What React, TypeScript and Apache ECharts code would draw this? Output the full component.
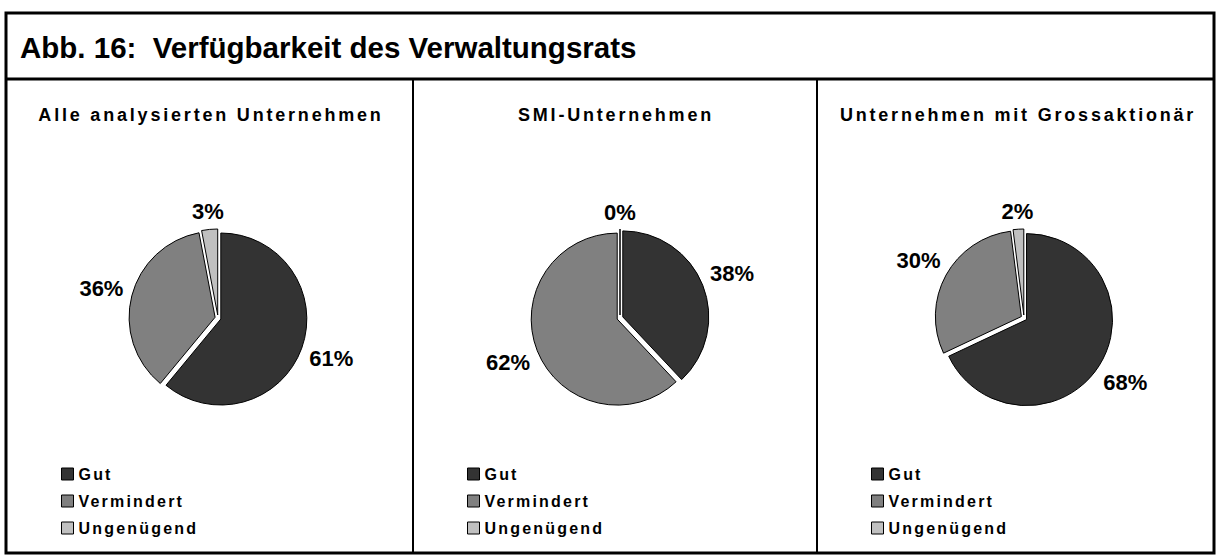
import React, { useEffect, useRef } from "react";
import * as echarts from "echarts";

const categories = ["Gut", "Vermindert", "Ungenügend"];
const colors = ["#333333", "#808080", "#c0c0c0"];
const panelTitles = ["Alle analysierten Unternehmen", "SMI-Unternehmen", "Unternehmen mit Grossaktionär"];
const valuesAlle = [61, 36, 3];
const valuesSMI = [38, 62, 0];
const valuesGross = [68, 30, 2];
const chartTitle = "Abb. 16:  Verfügbarkeit des Verwaltungsrats";

const FONT = "'Liberation Sans', Arial, sans-serif";
const FONT_SUB = "'Liberation Sans', spacedsubx, sans-serif";
const FONT_LEG = "'Liberation Sans', spacedlegx, sans-serif";
const LABEL_SIZE = 22;

const CSS = `
text[style*="spacedsubx"] { letter-spacing: 2.8px; }
text[style*="spacedlegx"] { letter-spacing: 2.2px; }
`;

// distance of the label centre beyond the slice edge, from the slice's mid angle and label size
function labelLength(vals: number[], idx: number) {
  const total = vals.reduce((a, b) => a + b, 0);
  let cum = 0;
  for (let k = 0; k < idx; k++) cum += vals[k];
  const th = ((cum + vals[idx] / 2) / total) * 2 * Math.PI;
  const digits = String(vals[idx]).length;
  const w = LABEL_SIZE * (0.556 * digits + 0.889);
  const h = LABEL_SIZE * 0.75;
  return 8 + (w / 2) * Math.abs(Math.sin(th)) + (h / 2) * Math.abs(Math.cos(th));
}

export default function App() {
  const ref = useRef<HTMLDivElement>(null);
  useEffect(() => {
    document.body.style.margin = "0";
    const chart = echarts.init(ref.current!, null, { renderer: "svg" });
    const allValues = [valuesAlle, valuesSMI, valuesGross];
    const centersX = [218, 620, 1024];
    const centerY = 318;
    const R = 86;
    const panelCenters = [211, 616, 1018];

    const series = allValues.map((vals, i) => ({
      type: "pie",
      center: [centersX[i], centerY],
      radius: R,
      startAngle: 90,
      clockwise: true,
      selectedMode: "multiple",
      selectedOffset: 3,
      avoidLabelOverlap: false,
      stillShowZeroSum: true,
      itemStyle: { borderColor: "#000", borderWidth: 1 },
      emphasis: { disabled: true },
      label: {
        show: true,
        position: "outside",
        formatter: "{c}%",
        fontFamily: FONT,
        fontWeight: "bold",
        fontSize: LABEL_SIZE,
        color: "#000",
        distanceToLabelLine: 0,
      },
      labelLine: { show: false, length: 10, length2: 0 },
      labelLayout: () => ({ align: "center", verticalAlign: "middle" }),
      data: vals.map((v, k) => ({
        name: categories[k],
        value: v,
        selected: true,
        itemStyle: { color: colors[k] },
        labelLine: { show: false, length: labelLength(vals, k), length2: 0 },
      })),
    }));

    const legends = [56, 462, 866].map((lx) => ({
      orient: "vertical",
      left: lx,
      top: 461,
      itemWidth: 12,
      itemHeight: 12,
      itemGap: 11,
      icon: "rect",
      selectedMode: false,
      data: categories,
      itemStyle: { borderColor: "#000", borderWidth: 1 },
      textStyle: { fontFamily: FONT_LEG, fontWeight: "bold", fontSize: 16, lineHeight: 16, color: "#000" },
    }));

    const graphics: any[] = [
      { type: "rect", shape: { x: 6, y: 13, width: 1208, height: 540 }, style: { fill: "none", stroke: "#000", lineWidth: 3 } },
      { type: "line", shape: { x1: 6, y1: 79, x2: 1214, y2: 79 }, style: { stroke: "#000", lineWidth: 3 } },
      { type: "line", shape: { x1: 413, y1: 79, x2: 413, y2: 553 }, style: { stroke: "#000", lineWidth: 2 } },
      { type: "line", shape: { x1: 817, y1: 79, x2: 817, y2: 553 }, style: { stroke: "#000", lineWidth: 2 } },
      {
        type: "text",
        x: 20,
        y: 47,
        style: { text: chartTitle, fontFamily: FONT, fontWeight: "bold", fontSize: 29.5, fill: "#000", verticalAlign: "middle", textAlign: "left" },
      },
      ...panelTitles.map((t, i) => ({
        type: "text",
        x: panelCenters[i],
        y: 115,
        style: { text: t, fontFamily: FONT_SUB, fontWeight: "bold", fontSize: 18, fill: "#000", verticalAlign: "middle", textAlign: "center" },
      })),
    ];

    chart.setOption({
      animation: false,
      backgroundColor: "#fff",
      legend: legends,
      series,
      graphic: graphics,
    });
    return () => chart.dispose();
  }, []);
  return (
    <>
      <style>{CSS}</style>
      <div ref={ref} style={{ width: 1220, height: 557, position: "absolute", left: 0, top: 0 }} />
    </>
  );
}
